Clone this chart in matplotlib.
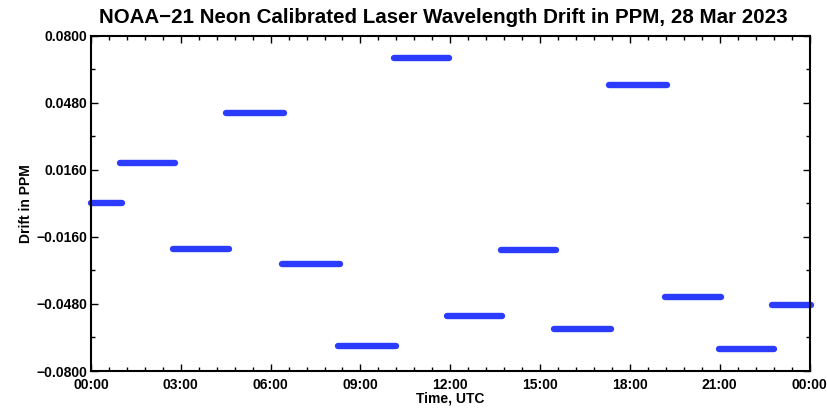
import matplotlib
matplotlib.use("Agg")
import matplotlib.pyplot as plt
from matplotlib.ticker import MultipleLocator, FixedLocator

# Data: segment start/end in hours UTC and drift value (PPM)
seg_start = [0.0, 0.98, 2.75, 4.52, 6.39, 8.26, 10.12, 11.90, 13.68, 15.45, 17.31, 19.18, 20.97, 22.75]
seg_end   = [1.04, 2.80, 4.60, 6.45, 8.32, 10.19, 11.97, 13.74, 15.52, 17.38, 19.24, 21.03, 22.80, 24.05]
drift     = [0.0000, 0.0194, -0.0219, 0.0430, -0.0289, -0.0679, 0.0695, -0.0538,
             -0.0223, -0.0600, 0.0563, -0.0447, -0.0697, -0.0485]

xtick_hours = [0, 3, 6, 9, 12, 15, 18, 21, 24]
xtick_labels = ["00:00", "03:00", "06:00", "09:00", "12:00", "15:00", "18:00", "21:00", "00:00"]
ytick_vals = [-0.08, -0.048, -0.016, 0.016, 0.048, 0.08]
ytick_labels = ["\u22120.0800", "\u22120.0480", "\u22120.0160", "0.0160", "0.0480", "0.0800"]

plt.rcParams['font.family'] = ['Liberation Sans', 'DejaVu Sans']
plt.rcParams['font.weight'] = 'bold'

fig = plt.figure(figsize=(8.28, 4.09), dpi=100)
ax = fig.add_axes([0.1099, 0.0929, 0.8678, 0.8198])

for s, e, v in zip(seg_start, seg_end, drift):
    ax.plot([s, e], [v, v], color="#2b3cff", linewidth=4.6,
            solid_capstyle="round", clip_on=False)

ax.set_xlim(0, 24)
ax.set_ylim(-0.08, 0.08)
ax.xaxis.set_major_locator(FixedLocator(xtick_hours))
ax.set_xticklabels(xtick_labels)
ax.xaxis.set_minor_locator(MultipleLocator(0.6))
ax.yaxis.set_major_locator(FixedLocator(ytick_vals))
ax.set_yticklabels(ytick_labels)
ax.yaxis.set_minor_locator(MultipleLocator(0.016))

ax.tick_params(which="both", direction="in", top=True, right=True,
               labelsize=10, width=1.0)
ax.tick_params(axis="x", pad=5)
ax.tick_params(axis="y", pad=3)
ax.tick_params(which="major", length=5)
ax.tick_params(which="minor", length=3)
for lab in ax.get_xticklabels() + ax.get_yticklabels():
    lab.set_fontweight("bold")
for sp in ax.spines.values():
    sp.set_linewidth(1.5)

ax.set_xlabel("Time, UTC", fontsize=10, fontweight="bold", labelpad=0)
ax.set_ylabel("Drift in PPM", fontsize=10, fontweight="bold", labelpad=2)
ax.set_title("NOAA\u221221 Neon Calibrated Laser Wavelength Drift in PPM, 28 Mar 2023",
             fontsize=14.8, fontweight="bold", pad=9, x=0.49)

fig.savefig("out.png", dpi=100)
